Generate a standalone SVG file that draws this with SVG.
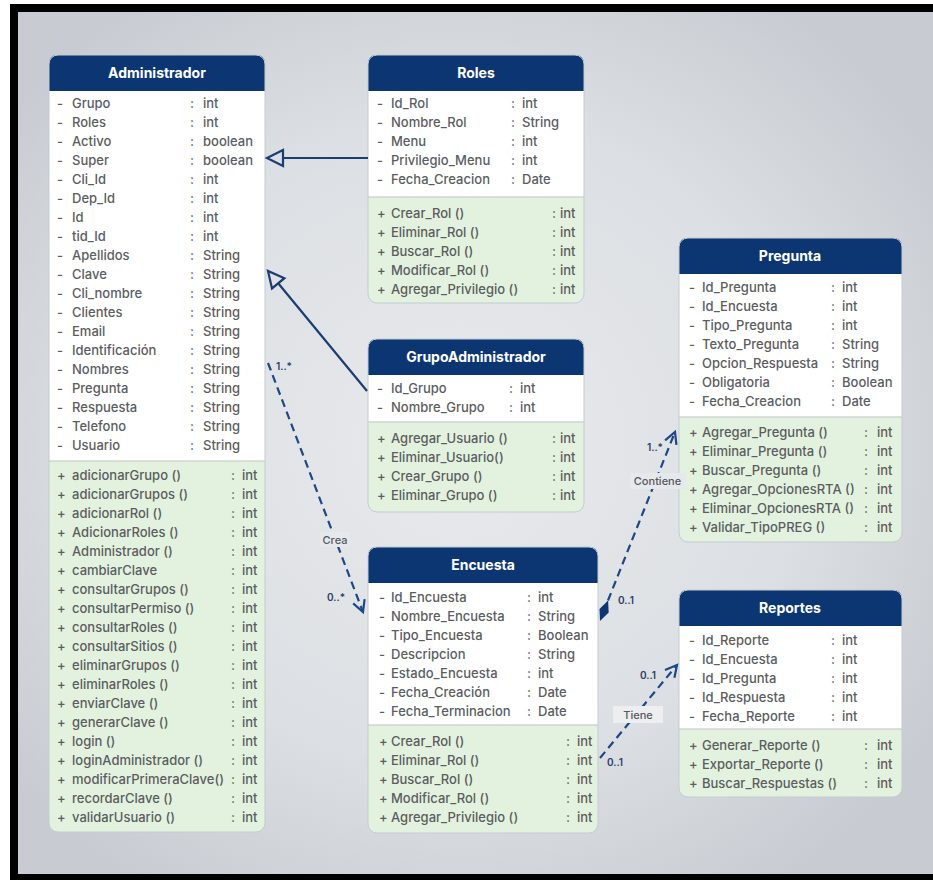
<svg xmlns="http://www.w3.org/2000/svg" width="933" height="880" viewBox="0 0 933 880">
  <defs>
    <radialGradient id="bg" cx="0.48" cy="0.5" r="0.62">
      <stop offset="0" stop-color="#e8eaed"/>
      <stop offset="0.6" stop-color="#dcdfe3"/>
      <stop offset="1" stop-color="#c8ccd2"/>
    </radialGradient>
    <style>
      .box { fill: #e3f2df; }
      .outline { fill: none; stroke: #c4cbd1; stroke-width: 1; }
      .hdr { fill: #0c3671; }
      .attrs { fill: #ffffff; }
      .sep { stroke: #cfd5d2; stroke-width: 1.5; }
      .title { font-family: Inter, "Liberation Sans", sans-serif; font-size: 14px; font-weight: 700; fill: #ffffff; text-anchor: middle; }
      .t { font-family: Inter, "Liberation Sans", sans-serif; font-size: 13px; font-weight: 500; fill: #5b5d60; }
      .solid { fill: none; stroke: #1b3d72; stroke-width: 2.2; }
      .dash { fill: none; stroke: #1f4785; stroke-width: 2.2; stroke-dasharray: 8 5; }
      .head { fill: none; stroke: #1f4785; stroke-width: 2.2; stroke-linejoin: miter; }
      .mult { font-family: Inter, "Liberation Sans", sans-serif; font-size: 10px; font-weight: 600; fill: #2b3f66; }
      .lbl { font-family: Inter, "Liberation Sans", sans-serif; font-size: 11px; font-weight: 500; fill: #55585c; text-anchor: middle; }
      .lblbg { fill: #e6e9ec; }
    </style>
  </defs>

  <!-- page frame -->
  <rect x="0" y="0" width="933" height="880" fill="#ffffff"/>
  <rect x="10" y="4" width="923" height="876" fill="#000000"/>
  <rect x="18" y="12" width="915" height="862" fill="url(#bg)"/>

  <!-- Administrador -->
  <g id="administrador">
    <rect class="box" x="49" y="55" width="216" height="777" rx="9"/>
    <path class="hdr" d="M49,91 V64 Q49,55 58,55 H256 Q265,55 265,64 V91 Z"/>
    <rect class="attrs" x="49" y="91" width="216" height="370"/>
    <line class="sep" x1="49" y1="461" x2="265" y2="461"/>
    <rect class="outline" x="49" y="55" width="216" height="777" rx="9"/>
    <text class="title" x="157" y="78">Administrador</text>
    <g class="t">
      <text y="107.5"><tspan x="57">-</tspan><tspan x="72">Grupo</tspan><tspan x="190">:</tspan><tspan x="203">int</tspan></text>
      <text y="126.5"><tspan x="57">-</tspan><tspan x="72">Roles</tspan><tspan x="190">:</tspan><tspan x="203">int</tspan></text>
      <text y="145.5"><tspan x="57">-</tspan><tspan x="72">Activo</tspan><tspan x="190">:</tspan><tspan x="203">boolean</tspan></text>
      <text y="164.5"><tspan x="57">-</tspan><tspan x="72">Super</tspan><tspan x="190">:</tspan><tspan x="203">boolean</tspan></text>
      <text y="183.5"><tspan x="57">-</tspan><tspan x="72">Cli_Id</tspan><tspan x="190">:</tspan><tspan x="203">int</tspan></text>
      <text y="202.5"><tspan x="57">-</tspan><tspan x="72">Dep_Id</tspan><tspan x="190">:</tspan><tspan x="203">int</tspan></text>
      <text y="221.5"><tspan x="57">-</tspan><tspan x="72">Id</tspan><tspan x="190">:</tspan><tspan x="203">int</tspan></text>
      <text y="240.5"><tspan x="57">-</tspan><tspan x="72">tid_Id</tspan><tspan x="190">:</tspan><tspan x="203">int</tspan></text>
      <text y="259.5"><tspan x="57">-</tspan><tspan x="72">Apellidos</tspan><tspan x="190">:</tspan><tspan x="203">String</tspan></text>
      <text y="278.5"><tspan x="57">-</tspan><tspan x="72">Clave</tspan><tspan x="190">:</tspan><tspan x="203">String</tspan></text>
      <text y="297.5"><tspan x="57">-</tspan><tspan x="72">Cli_nombre</tspan><tspan x="190">:</tspan><tspan x="203">String</tspan></text>
      <text y="316.5"><tspan x="57">-</tspan><tspan x="72">Clientes</tspan><tspan x="190">:</tspan><tspan x="203">String</tspan></text>
      <text y="335.5"><tspan x="57">-</tspan><tspan x="72">Email</tspan><tspan x="190">:</tspan><tspan x="203">String</tspan></text>
      <text y="354.5"><tspan x="57">-</tspan><tspan x="72">Identificación</tspan><tspan x="190">:</tspan><tspan x="203">String</tspan></text>
      <text y="373.5"><tspan x="57">-</tspan><tspan x="72">Nombres</tspan><tspan x="190">:</tspan><tspan x="203">String</tspan></text>
      <text y="392.5"><tspan x="57">-</tspan><tspan x="72">Pregunta</tspan><tspan x="190">:</tspan><tspan x="203">String</tspan></text>
      <text y="411.5"><tspan x="57">-</tspan><tspan x="72">Respuesta</tspan><tspan x="190">:</tspan><tspan x="203">String</tspan></text>
      <text y="430.5"><tspan x="57">-</tspan><tspan x="72">Telefono</tspan><tspan x="190">:</tspan><tspan x="203">String</tspan></text>
      <text y="449.5"><tspan x="57">-</tspan><tspan x="72">Usuario</tspan><tspan x="190">:</tspan><tspan x="203">String</tspan></text>
      <text y="479.5"><tspan x="57">+</tspan><tspan x="72">adicionarGrupo ()</tspan><tspan x="231">:</tspan><tspan x="242">int</tspan></text>
      <text y="498.5"><tspan x="57">+</tspan><tspan x="72">adicionarGrupos ()</tspan><tspan x="231">:</tspan><tspan x="242">int</tspan></text>
      <text y="517.5"><tspan x="57">+</tspan><tspan x="72">adicionarRol ()</tspan><tspan x="231">:</tspan><tspan x="242">int</tspan></text>
      <text y="536.5"><tspan x="57">+</tspan><tspan x="72">AdicionarRoles ()</tspan><tspan x="231">:</tspan><tspan x="242">int</tspan></text>
      <text y="555.5"><tspan x="57">+</tspan><tspan x="72">Administrador ()</tspan><tspan x="231">:</tspan><tspan x="242">int</tspan></text>
      <text y="574.5"><tspan x="57">+</tspan><tspan x="72">cambiarClave</tspan><tspan x="231">:</tspan><tspan x="242">int</tspan></text>
      <text y="593.5"><tspan x="57">+</tspan><tspan x="72">consultarGrupos ()</tspan><tspan x="231">:</tspan><tspan x="242">int</tspan></text>
      <text y="612.5"><tspan x="57">+</tspan><tspan x="72">consultarPermiso ()</tspan><tspan x="231">:</tspan><tspan x="242">int</tspan></text>
      <text y="631.5"><tspan x="57">+</tspan><tspan x="72">consultarRoles ()</tspan><tspan x="231">:</tspan><tspan x="242">int</tspan></text>
      <text y="650.5"><tspan x="57">+</tspan><tspan x="72">consultarSitios ()</tspan><tspan x="231">:</tspan><tspan x="242">int</tspan></text>
      <text y="669.5"><tspan x="57">+</tspan><tspan x="72">eliminarGrupos ()</tspan><tspan x="231">:</tspan><tspan x="242">int</tspan></text>
      <text y="688.5"><tspan x="57">+</tspan><tspan x="72">eliminarRoles ()</tspan><tspan x="231">:</tspan><tspan x="242">int</tspan></text>
      <text y="707.5"><tspan x="57">+</tspan><tspan x="72">enviarClave ()</tspan><tspan x="231">:</tspan><tspan x="242">int</tspan></text>
      <text y="726.5"><tspan x="57">+</tspan><tspan x="72">generarClave ()</tspan><tspan x="231">:</tspan><tspan x="242">int</tspan></text>
      <text y="745.5"><tspan x="57">+</tspan><tspan x="72">login ()</tspan><tspan x="231">:</tspan><tspan x="242">int</tspan></text>
      <text y="764.5"><tspan x="57">+</tspan><tspan x="72">loginAdministrador ()</tspan><tspan x="231">:</tspan><tspan x="242">int</tspan></text>
      <text y="783.5"><tspan x="57">+</tspan><tspan x="72">modificarPrimeraClave()</tspan><tspan x="231">:</tspan><tspan x="242">int</tspan></text>
      <text y="802.5"><tspan x="57">+</tspan><tspan x="72">recordarClave ()</tspan><tspan x="231">:</tspan><tspan x="242">int</tspan></text>
      <text y="821.5"><tspan x="57">+</tspan><tspan x="72">validarUsuario ()</tspan><tspan x="231">:</tspan><tspan x="242">int</tspan></text>
    </g>
  </g>

  <!-- Roles -->
  <g id="roles">
    <rect class="box" x="368" y="55" width="216" height="248" rx="9"/>
    <path class="hdr" d="M368,91 V64 Q368,55 377,55 H575 Q584,55 584,64 V91 Z"/>
    <rect class="attrs" x="368" y="91" width="216" height="106"/>
    <line class="sep" x1="368" y1="197" x2="584" y2="197"/>
    <rect class="outline" x="368" y="55" width="216" height="248" rx="9"/>
    <text class="title" x="476" y="78">Roles</text>
    <g class="t">
      <text y="107.5"><tspan x="377">-</tspan><tspan x="391">Id_Rol</tspan><tspan x="511">:</tspan><tspan x="522">int</tspan></text>
      <text y="126.5"><tspan x="377">-</tspan><tspan x="391">Nombre_Rol</tspan><tspan x="511">:</tspan><tspan x="522">String</tspan></text>
      <text y="145.5"><tspan x="377">-</tspan><tspan x="391">Menu</tspan><tspan x="511">:</tspan><tspan x="522">int</tspan></text>
      <text y="164.5"><tspan x="377">-</tspan><tspan x="391">Privilegio_Menu</tspan><tspan x="511">:</tspan><tspan x="522">int</tspan></text>
      <text y="184"><tspan x="377">-</tspan><tspan x="391">Fecha_Creacion</tspan><tspan x="511">:</tspan><tspan x="522">Date</tspan></text>
      <text y="217.5"><tspan x="377">+</tspan><tspan x="391">Crear_Rol ()</tspan><tspan x="552">:</tspan><tspan x="560">int</tspan></text>
      <text y="236.5"><tspan x="377">+</tspan><tspan x="391">Eliminar_Rol ()</tspan><tspan x="552">:</tspan><tspan x="560">int</tspan></text>
      <text y="255.5"><tspan x="377">+</tspan><tspan x="391">Buscar_Rol ()</tspan><tspan x="552">:</tspan><tspan x="560">int</tspan></text>
      <text y="274.5"><tspan x="377">+</tspan><tspan x="391">Modificar_Rol ()</tspan><tspan x="552">:</tspan><tspan x="560">int</tspan></text>
      <text y="293.5"><tspan x="377">+</tspan><tspan x="391">Agregar_Privilegio ()</tspan><tspan x="552">:</tspan><tspan x="560">int</tspan></text>
    </g>
  </g>

  <!-- GrupoAdministrador -->
  <g id="grupo-administrador">
    <rect class="box" x="368" y="339" width="216" height="173" rx="9"/>
    <path class="hdr" d="M368,375 V348 Q368,339 377,339 H575 Q584,339 584,348 V375 Z"/>
    <rect class="attrs" x="368" y="375" width="216" height="47"/>
    <line class="sep" x1="368" y1="422" x2="584" y2="422"/>
    <rect class="outline" x="368" y="339" width="216" height="173" rx="9"/>
    <text class="title" x="476" y="362">GrupoAdministrador</text>
    <g class="t">
      <text y="392.5"><tspan x="377">-</tspan><tspan x="391">Id_Grupo</tspan><tspan x="509">:</tspan><tspan x="520">int</tspan></text>
      <text y="411.5"><tspan x="377">-</tspan><tspan x="391">Nombre_Grupo</tspan><tspan x="509">:</tspan><tspan x="520">int</tspan></text>
      <text y="442.5"><tspan x="377">+</tspan><tspan x="391">Agregar_Usuario ()</tspan><tspan x="552">:</tspan><tspan x="560">int</tspan></text>
      <text y="461.5"><tspan x="377">+</tspan><tspan x="391">Eliminar_Usuario()</tspan><tspan x="552">:</tspan><tspan x="560">int</tspan></text>
      <text y="480.5"><tspan x="377">+</tspan><tspan x="391">Crear_Grupo ()</tspan><tspan x="552">:</tspan><tspan x="560">int</tspan></text>
      <text y="499.5"><tspan x="377">+</tspan><tspan x="391">Eliminar_Grupo ()</tspan><tspan x="552">:</tspan><tspan x="560">int</tspan></text>
    </g>
  </g>

  <!-- Pregunta -->
  <g id="pregunta">
    <rect class="box" x="679" y="238" width="223" height="304" rx="9"/>
    <path class="hdr" d="M679,274 V247 Q679,238 688,238 H893 Q902,238 902,247 V274 Z"/>
    <rect class="attrs" x="679" y="274" width="223" height="143"/>
    <line class="sep" x1="679" y1="417" x2="902" y2="417"/>
    <rect class="outline" x="679" y="238" width="223" height="304" rx="9"/>
    <text class="title" x="790" y="261">Pregunta</text>
    <g class="t">
      <text y="291.5"><tspan x="689">-</tspan><tspan x="702">Id_Pregunta</tspan><tspan x="831">:</tspan><tspan x="842">int</tspan></text>
      <text y="310.5"><tspan x="689">-</tspan><tspan x="702">Id_Encuesta</tspan><tspan x="831">:</tspan><tspan x="842">int</tspan></text>
      <text y="329.5"><tspan x="689">-</tspan><tspan x="702">Tipo_Pregunta</tspan><tspan x="831">:</tspan><tspan x="842">int</tspan></text>
      <text y="348.5"><tspan x="689">-</tspan><tspan x="702">Texto_Pregunta</tspan><tspan x="831">:</tspan><tspan x="842">String</tspan></text>
      <text y="367.5"><tspan x="689">-</tspan><tspan x="702">Opcion_Respuesta</tspan><tspan x="831">:</tspan><tspan x="842">String</tspan></text>
      <text y="386.5"><tspan x="689">-</tspan><tspan x="702">Obligatoria</tspan><tspan x="831">:</tspan><tspan x="842">Boolean</tspan></text>
      <text y="405.5"><tspan x="689">-</tspan><tspan x="702">Fecha_Creacion</tspan><tspan x="831">:</tspan><tspan x="842">Date</tspan></text>
      <text y="436.5"><tspan x="689">+</tspan><tspan x="702">Agregar_Pregunta ()</tspan><tspan x="864">:</tspan><tspan x="877">int</tspan></text>
      <text y="455.5"><tspan x="689">+</tspan><tspan x="702">Eliminar_Pregunta ()</tspan><tspan x="864">:</tspan><tspan x="877">int</tspan></text>
      <text y="474.5"><tspan x="689">+</tspan><tspan x="702">Buscar_Pregunta ()</tspan><tspan x="864">:</tspan><tspan x="877">int</tspan></text>
      <text y="493.5"><tspan x="689">+</tspan><tspan x="702">Agregar_OpcionesRTA ()</tspan><tspan x="864">:</tspan><tspan x="877">int</tspan></text>
      <text y="512.5"><tspan x="689">+</tspan><tspan x="702">Eliminar_OpcionesRTA ()</tspan><tspan x="864">:</tspan><tspan x="877">int</tspan></text>
      <text y="531.5"><tspan x="689">+</tspan><tspan x="702">Validar_TipoPREG ()</tspan><tspan x="864">:</tspan><tspan x="877">int</tspan></text>
    </g>
  </g>

  <!-- Encuesta -->
  <g id="encuesta">
    <rect class="box" x="368" y="547" width="230" height="286" rx="9"/>
    <path class="hdr" d="M368,583 V556 Q368,547 377,547 H589 Q598,547 598,556 V583 Z"/>
    <rect class="attrs" x="368" y="583" width="230" height="142"/>
    <line class="sep" x1="368" y1="725" x2="598" y2="725"/>
    <rect class="outline" x="368" y="547" width="230" height="286" rx="9"/>
    <text class="title" x="483" y="570">Encuesta</text>
    <g class="t">
      <text y="601.5"><tspan x="379">-</tspan><tspan x="391">Id_Encuesta</tspan><tspan x="527">:</tspan><tspan x="538">int</tspan></text>
      <text y="620.5"><tspan x="379">-</tspan><tspan x="391">Nombre_Encuesta</tspan><tspan x="527">:</tspan><tspan x="538">String</tspan></text>
      <text y="639.5"><tspan x="379">-</tspan><tspan x="391">Tipo_Encuesta</tspan><tspan x="527">:</tspan><tspan x="538">Boolean</tspan></text>
      <text y="658.5"><tspan x="379">-</tspan><tspan x="391">Descripcion</tspan><tspan x="527">:</tspan><tspan x="538">String</tspan></text>
      <text y="677.5"><tspan x="379">-</tspan><tspan x="391">Estado_Encuesta</tspan><tspan x="527">:</tspan><tspan x="538">int</tspan></text>
      <text y="696.5"><tspan x="379">-</tspan><tspan x="391">Fecha_Creación</tspan><tspan x="527">:</tspan><tspan x="538">Date</tspan></text>
      <text y="715.5"><tspan x="379">-</tspan><tspan x="391">Fecha_Terminacion</tspan><tspan x="527">:</tspan><tspan x="538">Date</tspan></text>
      <text y="745.5"><tspan x="379">+</tspan><tspan x="391">Crear_Rol ()</tspan><tspan x="566">:</tspan><tspan x="577">int</tspan></text>
      <text y="764.5"><tspan x="379">+</tspan><tspan x="391">Eliminar_Rol ()</tspan><tspan x="566">:</tspan><tspan x="577">int</tspan></text>
      <text y="783.5"><tspan x="379">+</tspan><tspan x="391">Buscar_Rol ()</tspan><tspan x="566">:</tspan><tspan x="577">int</tspan></text>
      <text y="802.5"><tspan x="379">+</tspan><tspan x="391">Modificar_Rol ()</tspan><tspan x="566">:</tspan><tspan x="577">int</tspan></text>
      <text y="821.5"><tspan x="379">+</tspan><tspan x="391">Agregar_Privilegio ()</tspan><tspan x="566">:</tspan><tspan x="577">int</tspan></text>
    </g>
  </g>

  <!-- Reportes -->
  <g id="reportes">
    <rect class="box" x="679" y="590" width="223" height="207" rx="9"/>
    <path class="hdr" d="M679,626 V599 Q679,590 688,590 H893 Q902,590 902,599 V626 Z"/>
    <rect class="attrs" x="679" y="626" width="223" height="103"/>
    <line class="sep" x1="679" y1="729" x2="902" y2="729"/>
    <rect class="outline" x="679" y="590" width="223" height="207" rx="9"/>
    <text class="title" x="790" y="613">Reportes</text>
    <g class="t">
      <text y="644.5"><tspan x="689">-</tspan><tspan x="702">Id_Reporte</tspan><tspan x="831">:</tspan><tspan x="842">int</tspan></text>
      <text y="663.5"><tspan x="689">-</tspan><tspan x="702">Id_Encuesta</tspan><tspan x="831">:</tspan><tspan x="842">int</tspan></text>
      <text y="682.5"><tspan x="689">-</tspan><tspan x="702">Id_Pregunta</tspan><tspan x="831">:</tspan><tspan x="842">int</tspan></text>
      <text y="701.5"><tspan x="689">-</tspan><tspan x="702">Id_Respuesta</tspan><tspan x="831">:</tspan><tspan x="842">int</tspan></text>
      <text y="720.5"><tspan x="689">-</tspan><tspan x="702">Fecha_Reporte</tspan><tspan x="831">:</tspan><tspan x="842">int</tspan></text>
      <text y="749.5"><tspan x="689">+</tspan><tspan x="702">Generar_Reporte ()</tspan><tspan x="864">:</tspan><tspan x="877">int</tspan></text>
      <text y="768.5"><tspan x="689">+</tspan><tspan x="702">Exportar_Reporte ()</tspan><tspan x="864">:</tspan><tspan x="877">int</tspan></text>
      <text y="787.5"><tspan x="689">+</tspan><tspan x="702">Buscar_Respuestas ()</tspan><tspan x="864">:</tspan><tspan x="877">int</tspan></text>
    </g>
  </g>

  <!-- connectors -->
  <g id="connectors">
    <!-- Roles generalises to Administrador -->
    <line class="solid" x1="368" y1="158" x2="283" y2="158"/>
    <path class="solid" d="M283,150 L267,158 L283,166 Z"/>

    <!-- GrupoAdministrador generalises to Administrador -->
    <line class="solid" x1="367" y1="391" x2="278.2" y2="283.3"/>
    <path class="solid" d="M272,288.4 L268,271 L284.4,278.2 Z"/>

    <!-- Crea: Administrador to Encuesta -->
    <line class="dash" x1="268" y1="363" x2="363" y2="612"/>
    <polyline class="head" points="353.2,603.4 363,612 364.6,599.1"/>
    <rect class="lblbg" x="320" y="532" width="30" height="15"/>
    <text class="lbl" x="335" y="543.5">Crea</text>
    <text class="mult" x="276" y="370">1..*</text>
    <text class="mult" x="327" y="601">0..*</text>

    <!-- Contiene: Encuesta aggregates Pregunta -->
    <line class="dash" x1="608" y1="600.5" x2="675" y2="432"/>
    <polyline class="head" points="665.1,440.4 675,432 676.4,444.9"/>
    <path d="M600,621 L599.5,609 L608.1,600.5 L608.7,612.6 Z" fill="#0c3671"/>
    <rect class="lblbg" x="630" y="473" width="56" height="16"/>
    <text class="lbl" x="657.5" y="485">Contiene</text>
    <text class="mult" x="647" y="451">1..*</text>
    <text class="mult" x="618" y="604">0..1</text>

    <!-- Tiene: Encuesta to Reportes -->
    <line class="dash" x1="600" y1="758" x2="677" y2="665"/>
    <polyline class="head" points="665,670 677,665 674.4,677.7"/>
    <rect x="613" y="706" width="50" height="17" fill="#eceef0"/>
    <text class="lbl" x="638" y="718.5">Tiene</text>
    <text class="mult" x="640" y="679">0..1</text>
    <text class="mult" x="607" y="766">0..1</text>
  </g>
</svg>
